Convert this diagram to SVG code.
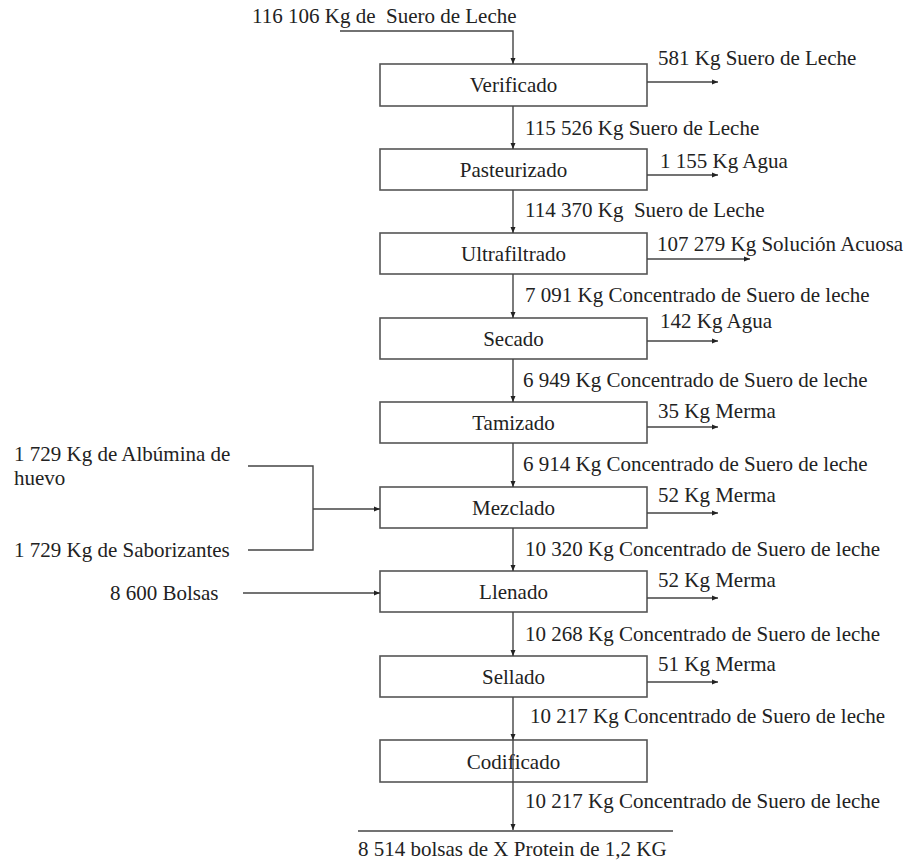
<svg xmlns="http://www.w3.org/2000/svg" width="906" height="865" viewBox="0 0 906 865">
<style>
text{font-family:"Liberation Serif","Times New Roman",serif;font-size:21px;fill:#222}
.lbl{text-anchor:middle}
.box rect{fill:#fff;stroke:#555;stroke-width:1.6}
.c line,.c polyline{stroke:#444;stroke-width:1.4;fill:none}
.a{marker-end:url(#ah)}
</style>
<defs>
<marker id="ah" markerUnits="userSpaceOnUse" markerWidth="7" markerHeight="6" refX="6" refY="3" orient="auto">
<path d="M0,0.5 L6,3 L0,5.5 z" fill="#222"/>
</marker>
</defs>
<rect width="906" height="865" fill="#fff"/>
<g id="nodes">
<g id="verificado" class="box"><rect x="380" y="64" width="267" height="42"/><text class="lbl" x="513.5" y="92">Verificado</text></g>
<g id="pasteurizado" class="box"><rect x="380" y="149" width="267" height="41"/><text class="lbl" x="513.5" y="177">Pasteurizado</text></g>
<g id="ultrafiltrado" class="box"><rect x="380" y="233" width="267" height="41"/><text class="lbl" x="513.5" y="261">Ultrafiltrado</text></g>
<g id="secado" class="box"><rect x="380" y="318" width="267" height="41"/><text class="lbl" x="513.5" y="346">Secado</text></g>
<g id="tamizado" class="box"><rect x="380" y="402" width="267" height="41"/><text class="lbl" x="513.5" y="430">Tamizado</text></g>
<g id="mezclado" class="box"><rect x="380" y="487" width="267" height="41"/><text class="lbl" x="513.5" y="515">Mezclado</text></g>
<g id="llenado" class="box"><rect x="380" y="571" width="267" height="41"/><text class="lbl" x="513.5" y="599">Llenado</text></g>
<g id="sellado" class="box"><rect x="380" y="656" width="267" height="41"/><text class="lbl" x="513.5" y="684">Sellado</text></g>
<g id="codificado" class="box"><rect x="380" y="740" width="267" height="42"/><text class="lbl" x="513.5" y="769">Codificado</text></g>
</g>
<g id="connectors" class="c">
<polyline class="a" points="340,31 513,31 513,64"/>
<line class="a" x1="513" y1="106" x2="513" y2="149"/>
<line class="a" x1="513" y1="190" x2="513" y2="233"/>
<line class="a" x1="513" y1="274" x2="513" y2="318"/>
<line class="a" x1="513" y1="359" x2="513" y2="402"/>
<line class="a" x1="513" y1="443" x2="513" y2="487"/>
<line class="a" x1="513" y1="528" x2="513" y2="571"/>
<line class="a" x1="513" y1="612" x2="513" y2="656"/>
<line class="a" x1="513" y1="697" x2="513" y2="740"/>
<line class="a" x1="513" y1="740" x2="513" y2="830"/>
<line x1="358" y1="831" x2="673" y2="831"/>
<line class="a" x1="647" y1="82" x2="718" y2="82"/>
<line class="a" x1="647" y1="175" x2="718" y2="175"/>
<line class="a" x1="647" y1="259" x2="750" y2="259"/>
<line class="a" x1="647" y1="341" x2="718" y2="341"/>
<line class="a" x1="647" y1="427" x2="718" y2="427"/>
<line class="a" x1="647" y1="513" x2="718" y2="513"/>
<line class="a" x1="647" y1="598" x2="718" y2="598"/>
<line class="a" x1="647" y1="682" x2="718" y2="682"/>
<polyline points="248,466 313,466 313,550 248,550"/>
<line class="a" x1="313" y1="509" x2="380" y2="509"/>
<line class="a" x1="243" y1="593" x2="380" y2="593"/>
</g>
<g id="labels">
<text x="252" y="23" xml:space="preserve">116 106 Kg de  Suero de Leche</text>
<text x="658" y="65">581 Kg Suero de Leche</text>
<text x="525" y="135">115 526 Kg Suero de Leche</text>
<text x="660" y="168">1 155 Kg Agua</text>
<text x="525" y="217" xml:space="preserve">114 370 Kg  Suero de Leche</text>
<text x="657" y="251">107 279 Kg Solución Acuosa</text>
<text x="525" y="302">7 091 Kg Concentrado de Suero de leche</text>
<text x="660" y="328">142 Kg Agua</text>
<text x="523" y="387">6 949 Kg Concentrado de Suero de leche</text>
<text x="658" y="418">35 Kg Merma</text>
<text x="523" y="471">6 914 Kg Concentrado de Suero de leche</text>
<text x="658" y="502">52 Kg Merma</text>
<text x="525" y="556">10 320 Kg Concentrado de Suero de leche</text>
<text x="658" y="587">52 Kg Merma</text>
<text x="525" y="641">10 268 Kg Concentrado de Suero de leche</text>
<text x="658" y="671">51 Kg Merma</text>
<text x="530" y="723">10 217 Kg Concentrado de Suero de leche</text>
<text x="525" y="808">10 217 Kg Concentrado de Suero de leche</text>
<text x="358" y="856">8 514 bolsas de X Protein de 1,2 KG</text>
<text x="14" y="461">1 729 Kg de Albúmina de</text>
<text x="14" y="485">huevo</text>
<text x="14" y="557">1 729 Kg de Saborizantes</text>
<text x="110" y="600">8 600 Bolsas</text>
</g>
</svg>
